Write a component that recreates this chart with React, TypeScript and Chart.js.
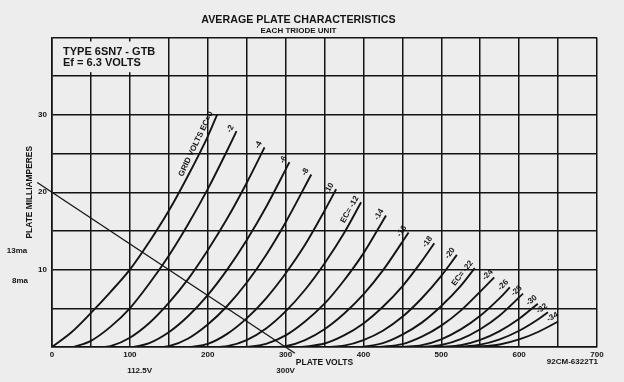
import { useEffect, useRef } from "react";
import { Chart, registerables } from "chart.js";

Chart.register(...registerables);

// ---------- data (plate volts, plate milliamperes) ----------
const curveLabels = [
  "GRID VOLTS EC=0", "-2", "-4", "-6", "-8", "-10", "EC= -12", "-14", "-16",
  "-18", "-20", "EC= -22", "-24", "-26", "-28", "-30", "-32", "-34",
];

const ec0 = [[0, 0], [25, 1.9], [50, 4.4], [75, 7.1], [100, 10.0], [125, 13.6], [150, 17.6], [175, 22.2], [200, 27.2], [212, 30]];
const ec2 = [[28, 0], [50, 0.8], [75, 2.6], [100, 5.0], [125, 8.2], [150, 11.8], [175, 15.9], [200, 20.4], [225, 25.4], [237, 27.9]];
const ec4 = [[68, 0], [75, 0.1], [100, 1.2], [125, 3.1], [150, 5.7], [175, 8.8], [200, 12.5], [225, 16.6], [250, 21.2], [273, 25.8]];
const ec6 = [[105, 0], [125, 0.5], [150, 1.9], [175, 4.0], [200, 6.7], [225, 10.0], [250, 13.8], [275, 18.1], [305, 23.9]];
const ec8 = [[140, 0], [150, 0.1], [175, 1.1], [200, 2.9], [225, 5.3], [250, 8.3], [275, 11.9], [300, 16.1], [333, 22.3]];
const ec10 = [[178, 0], [200, 0.4], [225, 1.7], [250, 3.7], [275, 6.3], [300, 9.5], [325, 13.2], [350, 17.6], [365, 20.4]];
const ec12 = [[215, 0], [225, 0.1], [250, 0.9], [275, 2.4], [300, 4.6], [325, 7.4], [350, 10.8], [375, 14.7], [397, 18.7]];
const ec14 = [[250, 0], [275, 0.4], [300, 1.5], [325, 3.3], [350, 5.6], [375, 8.6], [400, 12.1], [429, 17.0]];
const ec16 = [[285, 0], [300, 0.1], [325, 0.9], [350, 2.3], [375, 4.3], [400, 6.8], [425, 9.9], [458, 14.8]];
const ec18 = [[320, 0], [350, 0.45], [375, 1.5], [400, 3.05], [425, 5.2], [450, 7.85], [475, 11.1], [491, 13.4]];
const ec20 = [[355, 0], [375, 0.17], [400, 0.9], [425, 2.1], [450, 3.9], [475, 6.3], [500, 9.2], [520, 11.9]];
const ec22 = [[390, 0], [400, 0.04], [425, 0.5], [450, 1.6], [475, 3.15], [500, 5.3], [525, 7.9], [543, 10.2]];
const ec24 = [[420, 0], [450, 0.37], [475, 1.33], [500, 2.76], [525, 4.7], [550, 7.16], [568, 9.0]];
const ec26 = [[450, 0], [475, 0.25], [500, 1.0], [525, 2.27], [550, 4.04], [575, 6.32], [588, 7.7]];
const ec28 = [[475, 0], [500, 0.26], [525, 1.02], [550, 2.3], [575, 4.08], [605, 6.9]];
const ec30 = [[500, 0], [525, 0.23], [550, 0.91], [575, 2.05], [600, 3.64], [624, 5.6]];
const ec32 = [[520, 0], [550, 0.3], [575, 0.99], [600, 2.1], [625, 3.62], [637, 4.5]];
const ec34 = [[540, 0], [575, 0.33], [600, 0.98], [625, 1.97], [650, 3.3]];

const curves = [ec0, ec2, ec4, ec6, ec8, ec10, ec12, ec14, ec16, ec18, ec20, ec22, ec24, ec26, ec28, ec30, ec32, ec34];

// load line: 300 V supply, 20 mA intercept (drawn slightly past both axes)
const loadLineVolts = [-19, 312];
const loadLineMa = [21.27, -0.8];

const xTickLabels = [0, 100, 200, 300, 400, 500, 600, 700];
const yTickLabels = [10, 20, 30];

// ---------- styles ----------
const INK = "#141414";
const BG = "#ededed";
const FONT = "'Liberation Sans', Arial, sans-serif";

const bgPlugin = {
  id: "bgFill",
  beforeDraw(chart: any) {
    const { ctx, width, height } = chart;
    ctx.save();
    ctx.fillStyle = BG;
    ctx.fillRect(0, 0, width, height);
    ctx.restore();
  },
};

const labelPlugin = {
  id: "curveLabels",
  afterDatasetsDraw(chart: any) {
    const ctx = chart.ctx;
    ctx.save();
    ctx.fillStyle = INK;
    curveLabels.forEach((label, i) => {
      const pts = chart.getDatasetMeta(i).data;
      const p1 = pts[pts.length - 1];
      const p0 = pts[Math.max(0, pts.length - (i === 0 ? 3 : 2))];
      const ang = Math.atan2(p1.y - p0.y, p1.x - p0.x);
      ctx.save();
      ctx.translate(p1.x, p1.y);
      ctx.rotate(ang);
      ctx.font = `bold 8px ${FONT}`;
      ctx.textAlign = "right";
      ctx.textBaseline = "bottom";
      ctx.fillText(label, i === 0 ? 0 : 3, -2.5);
      ctx.restore();
    });
    ctx.restore();
  },
};

const notePlugin = {
  id: "notes",
  afterDraw(chart: any) {
    const ctx = chart.ctx;
    const xs = chart.scales.x;
    const ys = chart.scales.y;
    ctx.save();
    // type box in the top-left cell row
    const bx0 = xs.getPixelForValue(0) + 1.5;
    const bx1 = xs.getPixelForValue(150) - 1.5;
    const by0 = ys.getPixelForValue(40) + 4;
    const by1 = ys.getPixelForValue(35) - 4;
    ctx.fillStyle = BG;
    ctx.fillRect(bx0, by0, bx1 - bx0, by1 - by0);
    ctx.fillStyle = INK;
    ctx.textBaseline = "middle";
    ctx.textAlign = "left";
    ctx.font = `bold 11px ${FONT}`;
    ctx.fillText("TYPE 6SN7 - GTB", 63, 52);
    ctx.fillText("Ef = 6.3 VOLTS", 63, 62.5);

    ctx.font = `bold 8px ${FONT}`;
    ctx.textAlign = "center";
    ctx.fillText("13ma", 17, 251);
    ctx.fillText("8ma", 20, 281);
    ctx.fillText("112.5V", xs.getPixelForValue(112.5), 371);
    ctx.fillText("300V", xs.getPixelForValue(300), 371);
    ctx.textAlign = "right";
    ctx.fillText("92CM-6322T1", 598, 362);
    ctx.restore();
  },
};

export default function App() {
  const ref = useRef<HTMLCanvasElement | null>(null);

  useEffect(() => {
    document.body.style.margin = "0";
    document.body.style.background = BG;
    if (!ref.current) return;

    const datasets: any[] = curves.map((c) => ({
      data: c.map(([x, y]) => ({ x, y })),
      borderColor: INK,
      borderWidth: 1.9,
      pointRadius: 0,
      fill: false,
      cubicInterpolationMode: "monotone",
    }));
    datasets.push({
      data: loadLineVolts.map((v, i) => ({ x: v, y: loadLineMa[i] })),
      borderColor: INK,
      borderWidth: 1.3,
      pointRadius: 0,
      fill: false,
      clip: false,
    });

    const chart = new Chart(ref.current, {
      type: "line",
      data: { datasets },
      options: {
        responsive: false,
        animation: false,
        devicePixelRatio: 1,
        layout: { padding: { left: 0, right: 27, top: 0, bottom: 0 } },
        plugins: {
          legend: { display: false },
          tooltip: { enabled: false },
          title: {
            display: true,
            text: "AVERAGE PLATE CHARACTERISTICS",
            color: INK,
            font: { family: FONT, size: 10.7, weight: "bold", lineHeight: 1 },
            padding: { top: 14.5, bottom: 0 },
          },
          subtitle: {
            display: true,
            text: "EACH TRIODE UNIT",
            color: INK,
            font: { family: FONT, size: 8, weight: "bold", lineHeight: 1 },
            padding: { top: 2, bottom: 2.3 },
          },
        },
        scales: {
          x: {
            type: "linear",
            min: 0,
            max: 700,
            afterFit: (s: any) => {
              s.height = 35;
            },
            ticks: {
              stepSize: 50,
              autoSkip: false,
              maxRotation: 0,
              padding: 3,
              color: INK,
              font: { family: FONT, size: 8, weight: "bold" },
              callback: (v: any) => (xTickLabels.includes(Number(v)) ? String(v) : ""),
            },
            grid: { color: INK, lineWidth: 1.5, drawTicks: false },
            border: { color: INK, width: 1.6 },
            title: {
              display: true,
              text: "PLATE VOLTS",
              color: INK,
              font: { family: FONT, size: 8.5, weight: "bold", lineHeight: 1 },
              padding: { top: 0, bottom: 15.5 },
            },
          },
          y: {
            type: "linear",
            min: 0,
            max: 40,
            afterFit: (s: any) => {
              s.width = 52;
            },
            ticks: {
              stepSize: 5,
              autoSkip: false,
              padding: 5,
              color: INK,
              font: { family: FONT, size: 8, weight: "bold" },
              callback: (v: any) => (yTickLabels.includes(Number(v)) ? String(v) : ""),
            },
            grid: { color: INK, lineWidth: 1.5, drawTicks: false },
            border: { color: INK, width: 1.6 },
            title: {
              display: true,
              text: "PLATE MILLIAMPERES",
              color: INK,
              font: { family: FONT, size: 8.4, weight: "bold", lineHeight: 1 },
              padding: { top: 25.8, bottom: 0 },
            },
          },
        },
      },
      plugins: [bgPlugin, labelPlugin, notePlugin],
    } as any);

    return () => chart.destroy();
  }, []);

  return (
    <div style={{ width: 624, height: 382, background: BG }}>
      <canvas ref={ref} width={624} height={382} style={{ display: "block" }} />
    </div>
  );
}
